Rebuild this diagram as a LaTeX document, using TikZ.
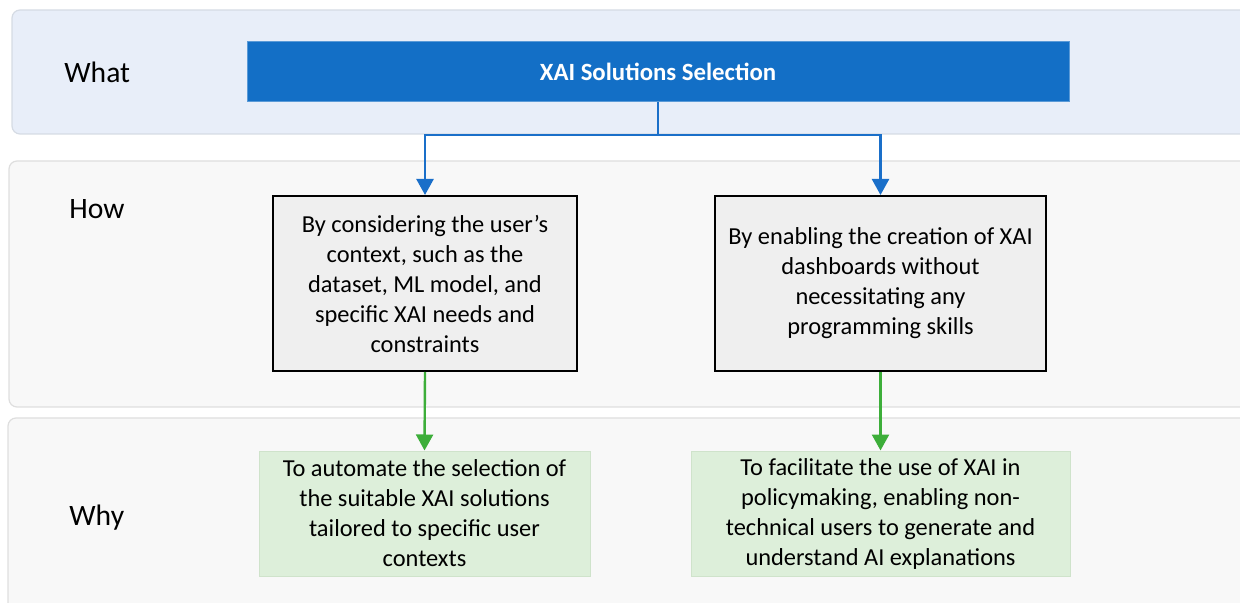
\documentclass[tikz,border=0pt]{standalone}
\usepackage{fontspec}
\setmainfont{Carlito}
\usetikzlibrary{arrows.meta}
\definecolor{whatfill}{HTML}{E8EEF9}
\definecolor{whatline}{HTML}{D5DBE4}
\definecolor{bandfill}{HTML}{F8F8F8}
\definecolor{bandline}{HTML}{DEDEDE}
\definecolor{selblue}{HTML}{136FC6}
\definecolor{arrowblue}{HTML}{1A6FC9}
\definecolor{arrowgreen}{HTML}{3DAE3A}
\definecolor{howfill}{HTML}{EFEFEF}
\definecolor{whyfill}{HTML}{DDEFDA}
\definecolor{whyline}{HTML}{CFE3CB}
\begin{document}
\begin{tikzpicture}[x=0.5pt,y=-0.5pt,
  band/.style={rounded corners=4pt,line width=0.6pt},
  rowlabel/.style={font=\fontsize{14.8}{18}\selectfont,anchor=west,inner sep=0pt},
  body/.style={font=\fontsize{12.2}{15}\selectfont,align=center,inner sep=0pt},
  selbox/.style={body,fill=selblue,draw=selblue!70!white,line width=0.5pt,text=white,font=\fontsize{12.4}{15}\selectfont\bfseries},
  howbox/.style={body,fill=howfill,draw=black,line width=1pt},
  whybox/.style={body,fill=whyfill,draw=whyline,line width=0.5pt},
  bluearrow/.style={draw=arrowblue,line width=1.2pt,-{Triangle[length=8pt,width=8.5pt]}},
  greenarrow/.style={draw=arrowgreen,line width=1.2pt,-{Triangle[length=8pt,width=8.5pt]}}]
\useasboundingbox (0,0) rectangle (1240,603);
\clip (0,0) rectangle (1240,603);

% row bands
\draw[band,fill=whatfill,draw=whatline] (12,10) rectangle (1250,134);
\draw[band,fill=bandfill,draw=bandline] (9,161) rectangle (1250,407);
\draw[band,fill=bandfill,draw=bandline] (8,418) rectangle (1250,620);

% row labels
\node[rowlabel] (lwhat) at (64,72) {What};
\node[rowlabel] (lhow) at (69,209) {How};
\node[rowlabel] (lwhy) at (69,518) {Why};

% boxes
\node[selbox,minimum width=411pt,minimum height=30pt] (sel) at (658,72) {XAI Solutions Selection};
\node[howbox,minimum width=152pt,minimum height=87.5pt] (how1) at (425,283.5)
  {By considering the user’s\\context, such as the\\dataset, ML model, and\\specific XAI needs and\\constraints};
\node[howbox,minimum width=165.5pt,minimum height=87.5pt] (how2) at (880.5,283.5)
  {By enabling the creation of XAI\\dashboards without\\necessitating any\\programming skills};
\node[whybox,minimum width=165.5pt,minimum height=62.5pt] (why1) at (424.5,513.5)
  {To automate the selection of\\the suitable XAI solutions\\tailored to specific user\\contexts};
\node[whybox,minimum width=189.5pt,minimum height=62.5pt] (why2) at (880.5,513.5)
  {To facilitate the use of XAI in\\policymaking, enabling non-\\technical users to generate and\\understand AI explanations};

% connectors
\coordinate (split) at (658,135);
\draw[bluearrow] (sel.south) -- (split) -| (how1.north);
\draw[bluearrow] (split) -| (how2.north);
\draw[greenarrow] (how1.south) -- (why1.north);
\draw[greenarrow] (how2.south) -- (why2.north);
\end{tikzpicture}
\end{document}
